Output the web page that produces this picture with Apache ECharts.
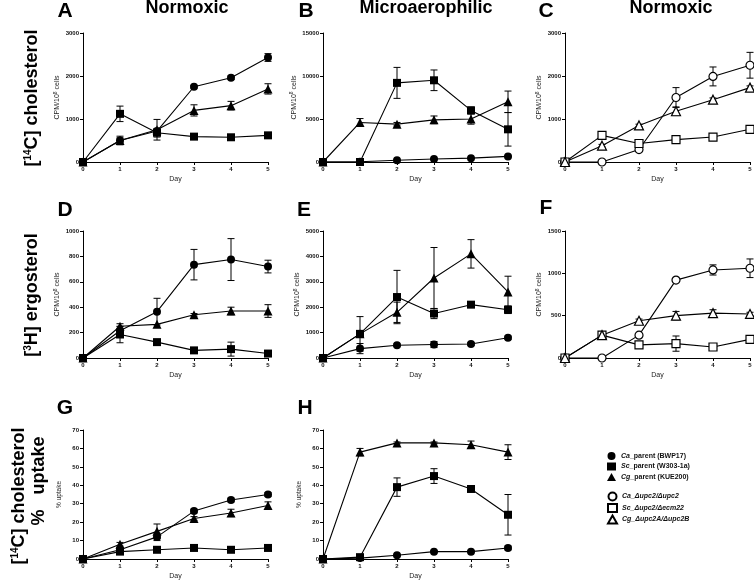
<!DOCTYPE html>
<html>
<head>
<meta charset="utf-8">
<script src="https://cdn.jsdelivr.net/npm/echarts@6/dist/echarts.min.js"></script>
<style>html,body{margin:0;padding:0;background:#fff}#c{width:754px;height:580px}</style>
</head>
<body>
<div id="c"></div>
<script>
// ---------- DATA ----------
const days = [0, 1, 2, 3, 4, 5];
const xTicks = ['0', '1', '2', '3', '4', '5'];
const seriesNames = ['Ca_parent (BWP17)', 'Sc_parent (W303-1a)', 'Cg_parent (KUE200)',
                     'Ca_\u0394upc2/\u0394upc2', 'Sc_\u0394upc2/\u0394ecm22', 'Cg_\u0394upc2A/\u0394upc2B'];
const panelLetters = ['A', 'B', 'C', 'D', 'E', 'F', 'G', 'H'];
const columnTitles = ['Normoxic', 'Microaerophilic', 'Normoxic'];
const yMax = [3000, 15000, 3000, 1000, 5000, 1500, 70, 70];
const yStep = [1000, 5000, 1000, 200, 1000, 500, 10, 10];

// Panel A  [14C] cholesterol, normoxic (parents)
const A_Ca = [0, 500, 720, 1750, 1960, 2430];   const A_Ca_err = [0, 100, 0, 30, 40, 90];
const A_Sc = [0, 1120, 680, 590, 575, 620];     const A_Sc_err = [0, 180, 100, 30, 30, 30];
const A_Cg = [0, 500, 750, 1200, 1310, 1700];   const A_Cg_err = [0, 60, 240, 130, 100, 120];
// Panel B  [14C] cholesterol, microaerophilic (parents)
const B_Ca = [0, 30, 200, 350, 450, 650];       const B_Ca_err = [0, 0, 50, 50, 50, 50];
const B_Sc = [0, 0, 9200, 9500, 6000, 3800];    const B_Sc_err = [0, 0, 1800, 1200, 400, 1950];
const B_Cg = [0, 4600, 4400, 4900, 5000, 7000]; const B_Cg_err = [0, 450, 200, 450, 600, 1250];
// Panel C  [14C] cholesterol, normoxic (mutants)
const C_Ca = [0, 0, 290, 1500, 1990, 2250];     const C_Ca_err = [0, 0, 0, 230, 220, 300];
const C_Sc = [0, 620, 430, 520, 580, 760];      const C_Sc_err = [0, 40, 40, 80, 40, 60];
const C_Cg = [0, 380, 850, 1180, 1450, 1730];   const C_Cg_err = [0, 30, 30, 100, 40, 40];
// Panel D  [3H] ergosterol, normoxic (parents)
const D_Ca = [0, 215, 365, 735, 775, 720];      const D_Ca_err = [0, 30, 105, 120, 165, 50];
const D_Sc = [0, 185, 125, 60, 70, 35];         const D_Sc_err = [0, 65, 10, 10, 55, 0];
const D_Cg = [0, 250, 265, 340, 370, 370];      const D_Cg_err = [0, 20, 0, 10, 30, 50];
// Panel E  [3H] ergosterol, microaerophilic (parents)
const E_Ca = [0, 370, 500, 530, 550, 800];      const E_Ca_err = [0, 200, 50, 120, 60, 60];
const E_Sc = [0, 950, 2400, 1750, 2100, 1900];  const E_Sc_err = [0, 100, 1050, 200, 100, 150];
const E_Cg = [0, 950, 1800, 3150, 4100, 2600];  const E_Cg_err = [0, 680, 400, 1200, 560, 620];
// Panel F  [3H] ergosterol, normoxic (mutants)
const F_Ca = [0, 0, 270, 920, 1040, 1060];      const F_Ca_err = [0, 0, 0, 20, 60, 110];
const F_Sc = [0, 270, 155, 170, 130, 220];      const F_Sc_err = [0, 20, 20, 90, 20, 30];
const F_Cg = [0, 270, 440, 500, 530, 520];      const F_Cg_err = [0, 20, 20, 50, 40, 20];
// Panel G  % uptake, normoxic (parents)
const G_Ca = [0, 5, 12, 26, 32, 35];            const G_Ca_err = [0, 1, 2, 1, 1, 1];
const G_Sc = [0, 4, 5, 6, 5, 6];                const G_Sc_err = [0, 0.5, 1, 1, 0.5, 0.5];
const G_Cg = [0, 8, 15, 22, 25, 29];            const G_Cg_err = [0, 1, 4, 1, 2, 2];
// Panel H  % uptake, microaerophilic (parents)
const H_Ca = [0, 0.5, 2, 4, 4, 6];              const H_Ca_err = [0, 0, 0.5, 0.5, 0.5, 1];
const H_Sc = [0, 1, 39, 45, 38, 24];            const H_Sc_err = [0, 0.5, 5, 4, 1, 11];
const H_Cg = [0, 58, 63, 63, 62, 58];           const H_Cg_err = [0, 2, 0.5, 0.5, 2, 4];

const panelData = [
  [[A_Ca, A_Ca_err], [A_Sc, A_Sc_err], [A_Cg, A_Cg_err]],
  [[B_Ca, B_Ca_err], [B_Sc, B_Sc_err], [B_Cg, B_Cg_err]],
  [[C_Ca, C_Ca_err], [C_Sc, C_Sc_err], [C_Cg, C_Cg_err]],
  [[D_Ca, D_Ca_err], [D_Sc, D_Sc_err], [D_Cg, D_Cg_err]],
  [[E_Ca, E_Ca_err], [E_Sc, E_Sc_err], [E_Cg, E_Cg_err]],
  [[F_Ca, F_Ca_err], [F_Sc, F_Sc_err], [F_Cg, F_Cg_err]],
  [[G_Ca, G_Ca_err], [G_Sc, G_Sc_err], [G_Cg, G_Cg_err]],
  [[H_Ca, H_Ca_err], [H_Sc, H_Sc_err], [H_Cg, H_Cg_err]]
];
const mutantPanels = [2, 5];

// ---------- LAYOUT / STYLE ----------
const FONT = '"Liberation Sans", Arial, Helvetica, sans-serif';
const gridPos = [
  [83, 33, 185, 129], [323, 33, 185, 129], [565, 33, 185, 129],
  [83, 231, 185, 127], [323, 231, 185, 127], [565, 231, 185, 127],
  [83, 430, 185, 129], [323, 430, 185, 129]
];
const yNameGap = [20, 24, 22, 20, 21, 22, 20, 20];
const symbols = ['circle', 'rect', 'triangle'];
const symSizes = [8, 8, 9];

const chart = echarts.init(document.getElementById('c'), null, {renderer: 'canvas'});

const grids = [], xAxes = [], yAxes = [], series = [];
const axisCommon = {
  axisLine: {show: true, lineStyle: {color: '#000', width: 1}},
  axisTick: {show: true, inside: false, length: 3, lineStyle: {color: '#000', width: 1}},
  splitLine: {show: false},
  axisLabel: {fontSize: 6, fontWeight: 'bold', color: '#111', fontFamily: FONT, margin: 4}
};

gridPos.forEach((g, i) => {
  grids.push({left: g[0], top: g[1], width: g[2], height: g[3], containLabel: false, outerBoundsMode: 'none'});
  xAxes.push(Object.assign({}, axisCommon, {
    gridIndex: i, type: 'value', min: 0, max: 5, interval: 1,
    axisLabel: Object.assign({}, axisCommon.axisLabel, {formatter: v => xTicks[v]}),
    name: 'Day', nameLocation: 'middle', nameGap: 14,
    nameTextStyle: {fontSize: 7, color: '#222', fontFamily: FONT}
  }));
  const isPct = i >= 6;
  yAxes.push(Object.assign({}, axisCommon, {
    gridIndex: i, type: 'value', min: 0, max: yMax[i], interval: yStep[i],
    axisLabel: Object.assign({}, axisCommon.axisLabel, {formatter: v => String(v)}),
    name: isPct ? '{n|% uptake}' : '{n|CPM/10}{s|8}{n| cells}',
    nameLocation: 'middle', nameRotate: 90, nameGap: yNameGap[i],
    nameTextStyle: {
      fontFamily: FONT, color: '#222', fontSize: 7,
      rich: {
        n: {fontSize: isPct ? 6.5 : 7, fontFamily: FONT, color: '#222', verticalAlign: 'bottom', lineHeight: 8},
        s: {fontSize: 5, fontFamily: FONT, color: '#222', verticalAlign: 'top', lineHeight: 5, padding: [0, 0, 4, 0]}
      }
    }
  }));
  const isMut = mutantPanels.indexOf(i) >= 0;
  panelData[i].forEach((pair, k) => {
    const vals = pair[0], errs = pair[1];
    const nm = seriesNames[k + (isMut ? 3 : 0)];
    series.push({
      type: 'custom', name: 'err', xAxisIndex: i, yAxisIndex: i, z: 2, silent: true,
      data: days.map((d, j) => [d, vals[j], errs[j]]),
      renderItem: function (params, api) {
        const x = api.value(0), y = api.value(1), e = api.value(2);
        if (!e) return null;
        const hi = api.coord([x, y + e]);
        const lo = api.coord([x, y - e]);
        const w = 3.5;
        const st = {stroke: '#000', lineWidth: 1, fill: null};
        return {type: 'group', children: [
          {type: 'line', shape: {x1: hi[0], y1: hi[1], x2: lo[0], y2: lo[1]}, style: st},
          {type: 'line', shape: {x1: hi[0] - w, y1: hi[1], x2: hi[0] + w, y2: hi[1]}, style: st},
          {type: 'line', shape: {x1: lo[0] - w, y1: lo[1], x2: lo[0] + w, y2: lo[1]}, style: st}
        ]};
      }
    });
    series.push({
      type: 'line', name: nm, xAxisIndex: i, yAxisIndex: i, z: 3,
      data: days.map((d, j) => [d, vals[j]]),
      symbol: symbols[k], symbolSize: symSizes[k], showSymbol: true, showAllSymbol: true,
      lineStyle: {color: '#000', width: 1.1},
      itemStyle: isMut ? {color: '#fff', borderColor: '#000', borderWidth: 1.2}
                       : {color: '#000', borderColor: '#000', borderWidth: 0},
      emphasis: {disabled: true}, silent: true, clip: false
    });
  });
});

// ---------- TEXT ----------
const graphics = [];
const letterPos = [[65, 11], [306, 11], [546, 11], [65, 210], [304, 210], [546, 208], [65, 408], [305, 408]];
panelLetters.forEach((L, i) => {
  graphics.push({type: 'text', x: letterPos[i][0], y: letterPos[i][1], silent: true,
    style: {text: L, fontSize: 21, fontWeight: 'bold', fontFamily: FONT, fill: '#000', align: 'center', verticalAlign: 'middle'}});
});
const titleX = [187, 426, 671];
columnTitles.forEach((t, i) => {
  graphics.push({type: 'text', x: titleX[i], y: 8, silent: true,
    style: {text: t, fontSize: 18, fontWeight: 'bold', fontFamily: FONT, fill: '#000', align: 'center', verticalAlign: 'middle'}});
});
const rowRich = {
  b: {fontSize: 18, fontWeight: 'bold', fontFamily: FONT, fill: '#000', lineHeight: 18, verticalAlign: 'bottom'},
  s: {fontSize: 10, fontWeight: 'bold', fontFamily: FONT, fill: '#000', lineHeight: 10, verticalAlign: 'top', padding: [0, 0, 16, 0]}
};
const rowLabels = [
  {t: '{b|[}{s|14}{b|C] cholesterol}', x: 32, y: 98},
  {t: '{b|[}{s|3}{b|H] ergosterol}', x: 32, y: 295},
  {t: '{b|[}{s|14}{b|C] cholesterol}', x: 19, y: 496}
];
rowLabels.forEach(r => {
  graphics.push({type: 'text', x: r.x, y: r.y, rotation: Math.PI / 2, silent: true,
    style: {text: r.t, rich: rowRich, align: 'center', verticalAlign: 'middle', fontSize: 18, fontWeight: 'bold', fontFamily: FONT, fill: '#000'}});
});
graphics.push({type: 'text', x: 39, y: 481, rotation: Math.PI / 2, silent: true,
  style: {text: '%   uptake', fontSize: 18, fontWeight: 'bold', fontFamily: FONT, fill: '#000', align: 'center', verticalAlign: 'middle'}});

// ---------- LEGEND ----------
const legendText = {
  fontSize: 7, fontWeight: 'bold', fontFamily: FONT, color: '#111',
  rich: {
    i: {fontSize: 7, fontWeight: 'bold', fontStyle: 'italic', fontFamily: FONT, color: '#111'},
    r: {fontSize: 7, fontWeight: 'bold', fontFamily: FONT, color: '#111'}
  }
};
function legendFmt(name) {
  if (name.indexOf('_parent') >= 0) {
    const p = name.split('_');
    return '{i|' + p[0] + '}{r|_' + p.slice(1).join('_') + '}';
  }
  return '{i|' + name + '}';
}
const legends = [
  {names: seriesNames.slice(0, 3), top: 452, gap: 2.5},
  {names: seriesNames.slice(3, 6), top: 491.5, gap: 1.5}
].map(l => ({
  data: l.names.map((n, k) => ({name: n, icon: symbols[k]})),
  top: l.top, left: 607, orient: 'vertical', itemWidth: 9, itemHeight: 8, itemGap: l.gap,
  padding: 0, selectedMode: false, formatter: legendFmt, textStyle: legendText
}));

chart.setOption({
  animation: false,
  backgroundColor: '#fff',
  grid: grids, xAxis: xAxes, yAxis: yAxes, series: series,
  legend: legends,
  graphic: graphics
});
</script>
</body>
</html>
